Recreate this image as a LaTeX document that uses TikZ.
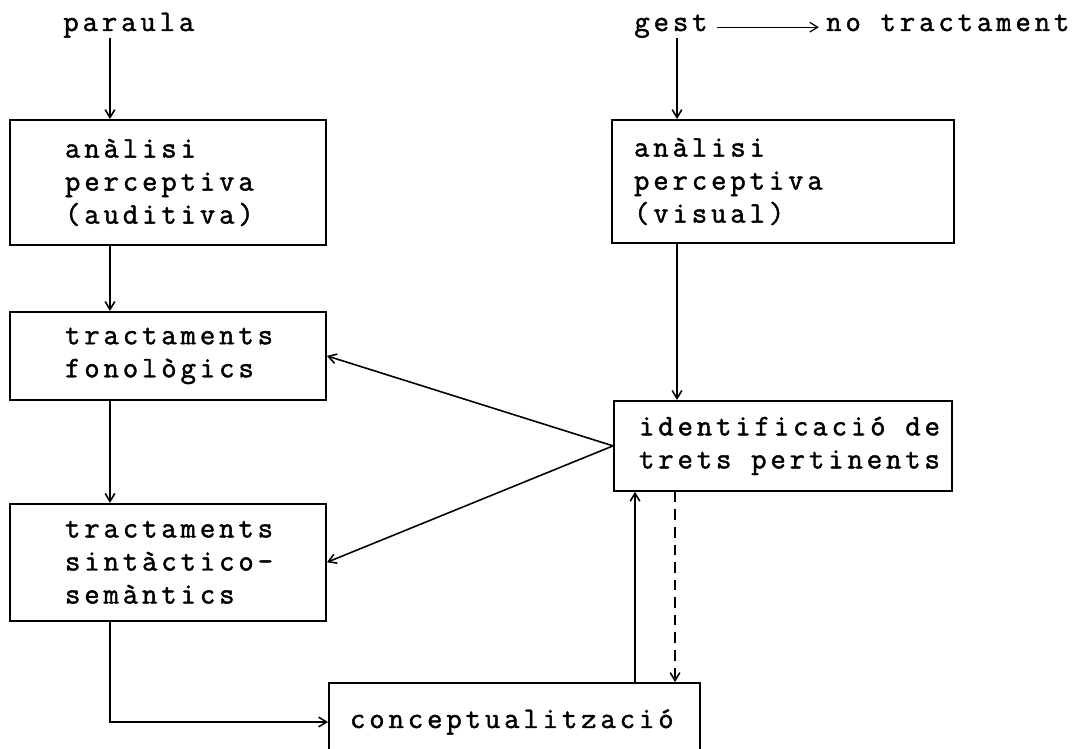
\documentclass[tikz,border=0pt]{standalone}
\usepackage{fontspec}
\newfontfamily\diagfont{Latin Modern Mono}[LetterSpace=13,FakeBold=1.5,HyphenChar=None]
\newcommand\wsp{\hspace{0.66em}}
\usepackage{tikz}
\usetikzlibrary{arrows.meta,positioning}

\begin{document}
\begin{tikzpicture}[x=0.02cm,y=-0.02cm,>={Straight Barb[length=4.5pt,width=5.5pt]},
  font={\diagfont\fontsize{17}{18.8}\selectfont},
  procbox/.style={draw,line width=1.1pt,align=left,inner ysep=0pt},
  lbox/.style={procbox,inner xsep=1.1cm,text width=4.12cm},
  flow/.style={->,line width=0.9pt}]
  \path[use as bounding box,clip] (0,0) rectangle (1077,749);
  \node (paraula) [anchor=base west,inner sep=0pt] at (63,31) {paraula};
  \node (gest) [anchor=base west,inner sep=0pt] at (634,31) {gest};
  \node (notr) [base right=2.36cm of gest,inner sep=0pt] {no\wsp tractament};
  \node (a1) [lbox,minimum height=2.5cm] at (168,182.5) {anàlisi\\perceptiva\\(auditiva)};
  \node (b1) [lbox,minimum height=1.76cm,below=1.3cm of a1] {tractaments\\fonològics};
  \node (c1) [lbox,minimum height=2.34cm,below=2.04cm of b1] {tractaments\\sintàctico-\\semàntics};
  \node (a2) [procbox,inner xsep=0.44cm,text width=5.96cm,minimum height=2.46cm] at (783,181.5) {anàlisi\\perceptiva\\(visual)};
  \node (ident) [procbox,inner xsep=0.5cm,text width=5.76cm,minimum height=1.8cm,below=3.12cm of a2] {\mbox{identificació\wsp de}\\\mbox{trets\wsp pertinents}};
  \node (concept) [procbox,inner xsep=0.42cm,text width=6.58cm,minimum height=1.56cm] at (514.5,722) {conceptualització};
  \coordinate (lx) at (110,0);
  \coordinate (rx) at (677,0);
  \coordinate (ux) at (635,0);
  \coordinate (dx) at (675,0);
  \draw[flow] (paraula.south -| lx) -- (a1.north -| lx);
  \draw[flow] (gest.south -| rx) -- (a2.north -| rx);
  \draw[flow,line width=0.7pt,shorten <=0.18cm,shorten >=0.14cm] (gest.mid east) -- (notr.mid west);
  \draw[flow] (a1.south -| lx) -- (b1.north -| lx);
  \draw[flow] (b1.south -| lx) -- (c1.north -| lx);
  \draw[flow] (c1.south -| lx) |- (concept.west);
  \draw[flow] (a2.south -| rx) -- (ident.north -| rx);
  \draw[flow] (ident.west) -- (b1.east);
  \draw[flow] (ident.west) -- (c1.east);
  \draw[flow] (concept.north -| ux) -- (ident.south -| ux);
  \draw[flow,dash pattern=on 6pt off 4pt] (ident.south -| dx) -- (concept.north -| dx);
\end{tikzpicture}
\end{document}
